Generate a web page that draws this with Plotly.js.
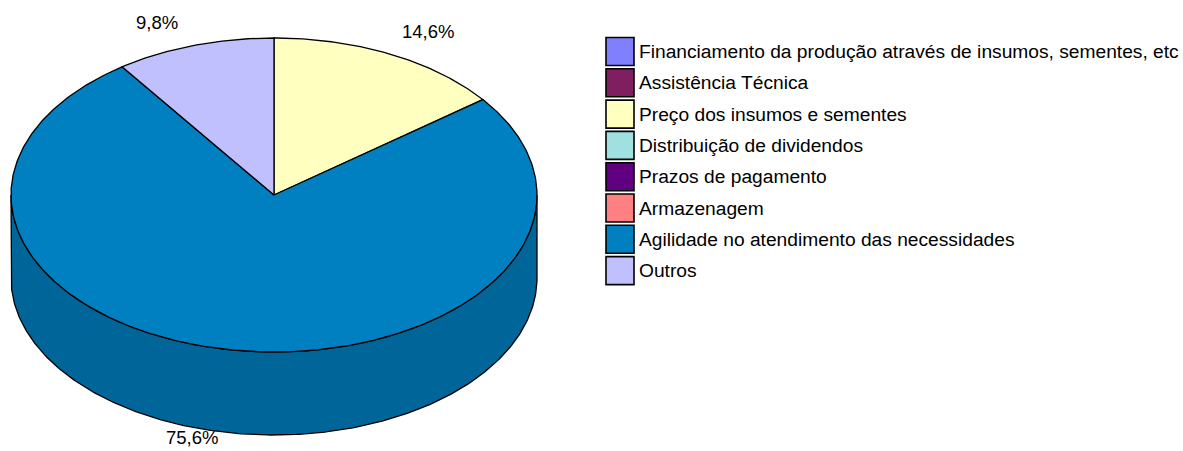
<!DOCTYPE html>
<html>
<head>
<meta charset="utf-8">
<script src="https://cdn.plot.ly/plotly-3.0.1.min.js"></script>
<style>html,body{margin:0;padding:0;background:#fff;}#chart{width:1183px;height:451px;}</style>
</head>
<body>
<div id="chart"></div>
<script>
// ---- data ----
const categories = [
  "Financiamento da produção através de insumos, sementes, etc",
  "Assistência Técnica",
  "Preço dos insumos e sementes",
  "Distribuição de dividendos",
  "Prazos de pagamento",
  "Armazenagem",
  "Agilidade no atendimento das necessidades",
  "Outros"
];
const values = [0, 0, 14.6, 0, 0, 0, 75.6, 9.8];
const topColors = ["#8080FF", "#7F1F5F", "#FFFFC0", "#A0E0E0", "#600080", "#FF8080", "#0080C0", "#C0C0FF"];
const sideColors = ["#6060C0", "#5F1747", "#C0C090", "#78A8A8", "#480060", "#C06060", "#006699", "#9090C0"];

// ---- geometry (layout parameters, pixel units) ----
const cx = 274, cy = 195, rx = 263, ry = 157, depth = 83;
const total = values.reduce((a, b) => a + b, 0);
function pt(t, dy) { return [cx + rx * Math.sin(t), cy - ry * Math.cos(t) + (dy || 0)]; }
function arc(a0, a1, dy) {
  const n = Math.max(2, Math.ceil((a1 - a0) / 0.01));
  const xs = [], ys = [];
  for (let i = 0; i <= n; i++) { const p = pt(a0 + (a1 - a0) * i / n, dy); xs.push(p[0]); ys.push(p[1]); }
  return [xs, ys];
}

const traces = [];
const annotations = [];
const shapes = [];
let cum = 0;
const slices = values.map((v, i) => { const a0 = cum / total * 2 * Math.PI; cum += v; return {i, v, a0, a1: cum / total * 2 * Math.PI}; });

// side walls (front half only)
slices.forEach(s => {
  if (s.v <= 0) return;
  const st = Math.max(s.a0, Math.PI / 2), en = Math.min(s.a1, 3 * Math.PI / 2);
  if (st >= en) return;
  const top = arc(st, en, 0), bot = arc(st, en, depth);
  const xs = top[0].concat(bot[0].slice().reverse()); xs.push(xs[0]);
  const ys = top[1].concat(bot[1].slice().reverse()); ys.push(ys[0]);
  traces.push({type: "scatter", mode: "lines", x: xs, y: ys, fill: "toself", fillcolor: sideColors[s.i],
    line: {color: "#000", width: 1.3}, hoverinfo: "skip", showlegend: false});
});
// top faces
slices.forEach(s => {
  if (s.v <= 0) return;
  const a = arc(s.a0, s.a1, 0);
  const xs = [cx].concat(a[0], [cx]), ys = [cy].concat(a[1], [cy]);
  traces.push({type: "scatter", mode: "lines", x: xs, y: ys, fill: "toself", fillcolor: topColors[s.i],
    line: {color: "#000", width: 1.3}, hoverinfo: "text", text: categories[s.i], showlegend: false});
  // percentage label
  const m = (s.a0 + s.a1) / 2, sn = Math.sin(m), cs = Math.cos(m);
  const lower = cs < 0;
  const p = pt(m, lower ? depth : 0);
  annotations.push({x: p[0], y: p[1], xref: "x", yref: "y", showarrow: false,
    text: s.v.toFixed(1).replace(".", ",") + "%",
    xanchor: sn > 0.1 ? "left" : (sn < -0.1 ? "right" : "center"),
    yanchor: lower ? "top" : "bottom",
    xshift: sn > 0 ? 10 : -14, yshift: lower ? 8 : 10,
    font: {family: "Liberation Sans, Arial, sans-serif", size: 18.5, color: "#000"}});
});

// legend (built from the category list)
const legX = 606, legTop = 37.5, legStep = 31.3, sw = 28;
categories.forEach((c, i) => {
  const y0 = legTop + i * legStep;
  shapes.push({type: "rect", xref: "x", yref: "y", x0: legX, x1: legX + sw, y0: y0, y1: y0 + sw,
    fillcolor: topColors[i], line: {color: "#000", width: 1.6}});
  annotations.push({x: legX + sw + 3, y: y0 + sw / 2, xref: "x", yref: "y", showarrow: false,
    xanchor: "left", yanchor: "middle", text: c,
    font: {family: "Liberation Sans, Arial, sans-serif", size: 19.2, color: "#000"}});
});

const layout = {
  width: 1183, height: 451,
  margin: {l: 0, r: 0, t: 0, b: 0},
  paper_bgcolor: "#fff", plot_bgcolor: "#fff",
  xaxis: {range: [0, 1183], visible: false, fixedrange: true},
  yaxis: {range: [451, 0], visible: false, fixedrange: true},
  showlegend: false,
  shapes: shapes,
  annotations: annotations
};
Plotly.newPlot("chart", traces, layout, {displayModeBar: false});
</script>
</body>
</html>
